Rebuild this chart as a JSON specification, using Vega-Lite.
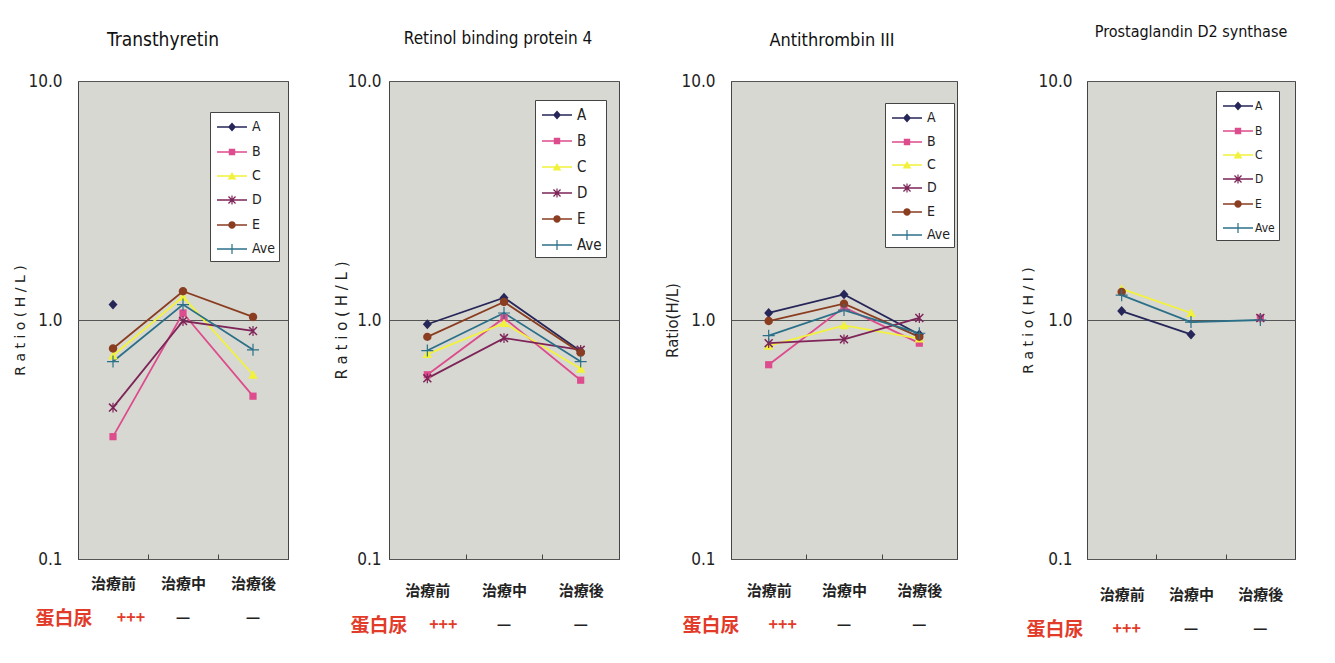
{
  "$schema": "https://vega.github.io/schema/vega-lite/v6.json",
  "background": "white",
  "padding": {"left": 13, "top": 23, "right": 5, "bottom": 5},
  "config": {
    "view": {"stroke": "#444"},
    "axis": {"labelColor": "#222", "titleColor": "#222"},
    "title": {"color": "#111", "font": "Liberation Sans Narrow, DejaVu Sans Condensed, Roboto, sans-serif", "fontWeight": "normal", "anchor": "middle"},
    "legend": {"title": null, "orient": "none", "fillColor": "#ffffff", "strokeColor": "#444", "padding": 4, "symbolOpacity": 1, "symbolSize": 400, "symbolOffset": 7, "labelOffset": 9, "labelFont": "Liberation Sans Narrow, DejaVu Sans Condensed, Roboto, sans-serif", "labelColor": "#222"}
  },
  "spacing": 63,
  "resolve": {"scale": {"color": "independent", "shape": "independent"}},
  "hconcat": [
    {
      "spacing": 45,
      "resolve": {"scale": {"color": "independent", "shape": "independent"}},
      "hconcat": [
        {
          "spacing": 10,
          "vconcat": [
            {
              "title": {"text": "Transthyretin", "fontSize": 19, "offset": 22, "dx": -20},
              "width": 210, "height": 478,
              "view": {"fill": "#d8d8d2", "stroke": "#444"},
              "data": {"values": [
                {"g": "A", "t": 0, "stage": "治療前", "v": 1.16},
                {"g": "B", "t": 0, "stage": "治療前", "v": 0.325},
                {"g": "B", "t": 1, "stage": "治療中", "v": 1.07},
                {"g": "B", "t": 2, "stage": "治療後", "v": 0.48},
                {"g": "C", "t": 0, "stage": "治療前", "v": 0.71},
                {"g": "C", "t": 1, "stage": "治療中", "v": 1.25},
                {"g": "C", "t": 2, "stage": "治療後", "v": 0.59},
                {"g": "D", "t": 0, "stage": "治療前", "v": 0.43},
                {"g": "D", "t": 1, "stage": "治療中", "v": 0.99},
                {"g": "D", "t": 2, "stage": "治療後", "v": 0.9},
                {"g": "E", "t": 0, "stage": "治療前", "v": 0.76},
                {"g": "E", "t": 1, "stage": "治療中", "v": 1.32},
                {"g": "E", "t": 2, "stage": "治療後", "v": 1.03},
                {"g": "Ave", "t": 0, "stage": "治療前", "v": 0.67},
                {"g": "Ave", "t": 1, "stage": "治療中", "v": 1.16},
                {"g": "Ave", "t": 2, "stage": "治療後", "v": 0.75}
              ]},
              "encoding": {
                "x": {"field": "stage", "type": "ordinal", "sort": ["治療前", "治療中", "治療後"], "scale": {"type": "band", "paddingInner": 0, "paddingOuter": 0},
                  "axis": {"title": null, "domain": false, "tickBand": "extent", "ticks": true, "tickSize": -5, "tickColor": "#444", "labelFont": "Noto Sans CJK JP", "labelFontWeight": "bold", "labelFontSize": 15, "labelPadding": 22, "labelAngle": 0, "grid": false}},
                "y": {"field": "v", "type": "quantitative", "scale": {"type": "log", "domain": [0.1, 10], "nice": false},
                  "axis": {"title": "R a t i o  ( H / L )", "values": [0.1, 1, 10], "format": ".1f", "grid": true, "gridColor": "#555", "ticks": false, "domain": false, "labelFont": "Liberation Sans Narrow, DejaVu Sans Condensed, Roboto, sans-serif", "labelFontSize": 17, "labelPadding": 16, "titleFont": "DejaVu Sans", "titleFontSize": 14, "titleFontWeight": "normal", "titlePadding": 0}}
              },
              "layer": [
                {
                  "mark": {"type": "line", "strokeWidth": 1.8},
                  "encoding": {
                    "detail": {"field": "g"},
                    "order": {"field": "t"},
                    "color": {"condition": [
                      {"test": "datum.g==='A'", "value": "#262659"},
                      {"test": "datum.g==='B'", "value": "#dd4c8c"},
                      {"test": "datum.g==='C'", "value": "#f2f23c"},
                      {"test": "datum.g==='D'", "value": "#7d2458"},
                      {"test": "datum.g==='E'", "value": "#8a3d20"}
                    ], "value": "#2b7088"}
                  }
                },
                {
                  "mark": {"type": "point", "filled": true, "size": 900, "strokeWidth": 0, "opacity": 1},
                  "encoding": {
                    "color": {"condition": [
                      {"test": "datum.g==='A'", "value": "#262659"},
                      {"test": "datum.g==='B'", "value": "#dd4c8c"},
                      {"test": "datum.g==='C'", "value": "#f2f23c"},
                      {"test": "datum.g==='D'", "value": "#7d2458"},
                      {"test": "datum.g==='E'", "value": "#8a3d20"}
                    ], "value": "#2b7088"},
                    "shape": {"condition": [
                      {"test": "datum.g==='A'", "value": "M0,-0.33L0.3,0L0,0.33L-0.3,0Z"},
                      {"test": "datum.g==='B'", "value": "M-0.24,-0.24H0.24V0.24H-0.24Z"},
                      {"test": "datum.g==='C'", "value": "M0,-0.3L0.32,0.26H-0.32Z"},
                      {"test": "datum.g==='D'", "value": "M-0.3,-0.23L-0.23,-0.3L0.3,0.23L0.23,0.3ZM0.23,-0.3L0.3,-0.23L-0.23,0.3L-0.3,0.23ZM-0.04,-0.33H0.04V0.33H-0.04Z"},
                      {"test": "datum.g==='E'", "value": "M0.28,0A0.28,0.28,0,1,1,-0.28,0A0.28,0.28,0,1,1,0.28,0Z"}
                    ], "value": "M-0.04,-0.4H0.04V-0.04H0.4V0.04H0.04V0.4H-0.04V0.04H-0.4V-0.04H-0.04Z"}
                  }
                },
                {
                  "transform": [{"filter": "false"}],
                  "mark": {"type": "point", "filled": true, "opacity": 1},
                  "encoding": {
                    "color": {"field": "g", "type": "nominal",
                      "scale": {"domain": ["A", "B", "C", "D", "E", "Ave"], "range": ["#262659", "#dd4c8c", "#f2f23c", "#7d2458", "#8a3d20", "#2b7088"]},
                      "legend": {"legendX": 132, "legendY": 31, "rowPadding": 6, "labelFontSize": 14}},
                    "shape": {"field": "g", "type": "nominal",
                      "scale": {"domain": ["A", "B", "C", "D", "E", "Ave"], "range": [
                        "M-1.5,-0.07H1.5V0.07H-1.5ZM0,-0.44L0.4,0L0,0.44L-0.4,0Z",
                        "M-1.5,-0.07H1.5V0.07H-1.5ZM-0.32,-0.32H0.32V0.32H-0.32Z",
                        "M-1.5,-0.07H1.5V0.07H-1.5ZM0,-0.4L0.43,0.35H-0.43Z",
                        "M-1.5,-0.07H1.5V0.07H-1.5ZM-0.4,-0.31L-0.31,-0.4L0.4,0.31L0.31,0.4ZM0.31,-0.4L0.4,-0.31L-0.31,0.4L-0.4,0.31ZM-0.06,-0.44H0.06V0.44H-0.06Z",
                        "M-1.5,-0.07H1.5V0.07H-1.5ZM0.37,0A0.37,0.37,0,1,1,-0.37,0A0.37,0.37,0,1,1,0.37,0Z",
                        "M-1.5,-0.07H1.5V0.07H-1.5ZM-0.06,-0.5H0.06V-0.06H0.5V0.06H0.06V0.5H-0.06V0.06H-0.5V-0.06H-0.06Z"]},
                      "legend": {"legendX": 132, "legendY": 31, "rowPadding": 6, "labelFontSize": 14}}
                  }
                }
              ]
            },
            {
              "width": 210, "height": 32,
              "view": {"stroke": null, "fill": null},
              "data": {"values": [
                {"stage": "治療前", "row": "蛋白尿", "sign": "+++"},
                {"stage": "治療中", "row": "蛋白尿", "sign": "—"},
                {"stage": "治療後", "row": "蛋白尿", "sign": "—"}
              ]},
              "encoding": {
                "x": {"field": "stage", "type": "ordinal", "sort": ["治療前", "治療中", "治療後"], "scale": {"type": "band", "paddingInner": 0, "paddingOuter": 0}, "axis": null},
                "y": {"field": "row", "type": "nominal", "axis": {"title": null, "domain": false, "ticks": false, "labelColor": "#e23b2a", "labelFont": "Noto Sans CJK JP", "labelFontWeight": "bold", "labelFontSize": 19, "labelPadding": -14}},
                "text": {"field": "sign"}
              },
              "layer": [
                {"transform": [{"filter": "datum.sign==='+++'"}], "mark": {"type": "text", "font": "Noto Sans CJK JP", "fontWeight": "bold", "fontSize": 16, "color": "#e23b2a", "dx": 18}},
                {"transform": [{"filter": "datum.sign!=='+++'"}], "mark": {"type": "text", "font": "Noto Sans CJK JP", "fontWeight": "bold", "fontSize": 16, "color": "#222"}}
              ]
            }
          ]
        },
        {
          "spacing": 10,
          "vconcat": [
            {
              "title": {"text": "Retinol binding protein 4", "fontSize": 17, "offset": 24, "dx": -6},
              "width": 230, "height": 478,
              "view": {"fill": "#d8d8d2", "stroke": "#444"},
              "data": {"values": [
                {"g": "A", "t": 0, "stage": "治療前", "v": 0.96},
                {"g": "A", "t": 1, "stage": "治療中", "v": 1.24},
                {"g": "A", "t": 2, "stage": "治療後", "v": 0.74},
                {"g": "B", "t": 0, "stage": "治療前", "v": 0.59},
                {"g": "B", "t": 1, "stage": "治療中", "v": 1.02},
                {"g": "B", "t": 2, "stage": "治療後", "v": 0.56},
                {"g": "C", "t": 0, "stage": "治療前", "v": 0.72},
                {"g": "C", "t": 1, "stage": "治療中", "v": 0.97},
                {"g": "C", "t": 2, "stage": "治療後", "v": 0.625},
                {"g": "D", "t": 0, "stage": "治療前", "v": 0.57},
                {"g": "D", "t": 1, "stage": "治療中", "v": 0.84},
                {"g": "D", "t": 2, "stage": "治療後", "v": 0.75},
                {"g": "E", "t": 0, "stage": "治療前", "v": 0.85},
                {"g": "E", "t": 1, "stage": "治療中", "v": 1.19},
                {"g": "E", "t": 2, "stage": "治療後", "v": 0.73},
                {"g": "Ave", "t": 0, "stage": "治療前", "v": 0.745},
                {"g": "Ave", "t": 1, "stage": "治療中", "v": 1.07},
                {"g": "Ave", "t": 2, "stage": "治療後", "v": 0.67}
              ]},
              "encoding": {
                "x": {"field": "stage", "type": "ordinal", "sort": ["治療前", "治療中", "治療後"], "scale": {"type": "band", "paddingInner": 0, "paddingOuter": 0},
                  "axis": {"title": null, "domain": false, "tickBand": "extent", "ticks": true, "tickSize": -5, "tickColor": "#444", "labelFont": "Noto Sans CJK JP", "labelFontWeight": "bold", "labelFontSize": 15, "labelPadding": 29, "labelAngle": 0, "grid": false}},
                "y": {"field": "v", "type": "quantitative", "scale": {"type": "log", "domain": [0.1, 10], "nice": false},
                  "axis": {"title": "R a t i o  ( H / L )", "values": [0.1, 1, 10], "format": ".1f", "grid": true, "gridColor": "#555", "ticks": false, "domain": false, "labelFont": "Liberation Sans Narrow, DejaVu Sans Condensed, Roboto, sans-serif", "labelFontSize": 17, "labelPadding": 8, "titleFont": "DejaVu Sans", "titleFontSize": 15, "titleFontWeight": "normal", "titlePadding": -3}}
              },
              "layer": [
                {
                  "mark": {"type": "line", "strokeWidth": 1.8},
                  "encoding": {
                    "detail": {"field": "g"},
                    "order": {"field": "t"},
                    "color": {"condition": [
                      {"test": "datum.g==='A'", "value": "#262659"},
                      {"test": "datum.g==='B'", "value": "#dd4c8c"},
                      {"test": "datum.g==='C'", "value": "#f2f23c"},
                      {"test": "datum.g==='D'", "value": "#7d2458"},
                      {"test": "datum.g==='E'", "value": "#8a3d20"}
                    ], "value": "#2b7088"}
                  }
                },
                {
                  "mark": {"type": "point", "filled": true, "size": 900, "strokeWidth": 0, "opacity": 1},
                  "encoding": {
                    "color": {"condition": [
                      {"test": "datum.g==='A'", "value": "#262659"},
                      {"test": "datum.g==='B'", "value": "#dd4c8c"},
                      {"test": "datum.g==='C'", "value": "#f2f23c"},
                      {"test": "datum.g==='D'", "value": "#7d2458"},
                      {"test": "datum.g==='E'", "value": "#8a3d20"}
                    ], "value": "#2b7088"},
                    "shape": {"condition": [
                      {"test": "datum.g==='A'", "value": "M0,-0.33L0.3,0L0,0.33L-0.3,0Z"},
                      {"test": "datum.g==='B'", "value": "M-0.24,-0.24H0.24V0.24H-0.24Z"},
                      {"test": "datum.g==='C'", "value": "M0,-0.3L0.32,0.26H-0.32Z"},
                      {"test": "datum.g==='D'", "value": "M-0.3,-0.23L-0.23,-0.3L0.3,0.23L0.23,0.3ZM0.23,-0.3L0.3,-0.23L-0.23,0.3L-0.3,0.23ZM-0.04,-0.33H0.04V0.33H-0.04Z"},
                      {"test": "datum.g==='E'", "value": "M0.28,0A0.28,0.28,0,1,1,-0.28,0A0.28,0.28,0,1,1,0.28,0Z"}
                    ], "value": "M-0.04,-0.4H0.04V-0.04H0.4V0.04H0.04V0.4H-0.04V0.04H-0.4V-0.04H-0.04Z"}
                  }
                },
                {
                  "transform": [{"filter": "false"}],
                  "mark": {"type": "point", "filled": true, "opacity": 1},
                  "encoding": {
                    "color": {"field": "g", "type": "nominal",
                      "scale": {"domain": ["A", "B", "C", "D", "E", "Ave"], "range": ["#262659", "#dd4c8c", "#f2f23c", "#7d2458", "#8a3d20", "#2b7088"]},
                      "legend": {"legendX": 146, "legendY": 19, "rowPadding": 7, "labelFontSize": 15}},
                    "shape": {"field": "g", "type": "nominal",
                      "scale": {"domain": ["A", "B", "C", "D", "E", "Ave"], "range": [
                        "M-1.5,-0.07H1.5V0.07H-1.5ZM0,-0.44L0.4,0L0,0.44L-0.4,0Z",
                        "M-1.5,-0.07H1.5V0.07H-1.5ZM-0.32,-0.32H0.32V0.32H-0.32Z",
                        "M-1.5,-0.07H1.5V0.07H-1.5ZM0,-0.4L0.43,0.35H-0.43Z",
                        "M-1.5,-0.07H1.5V0.07H-1.5ZM-0.4,-0.31L-0.31,-0.4L0.4,0.31L0.31,0.4ZM0.31,-0.4L0.4,-0.31L-0.31,0.4L-0.4,0.31ZM-0.06,-0.44H0.06V0.44H-0.06Z",
                        "M-1.5,-0.07H1.5V0.07H-1.5ZM0.37,0A0.37,0.37,0,1,1,-0.37,0A0.37,0.37,0,1,1,0.37,0Z",
                        "M-1.5,-0.07H1.5V0.07H-1.5ZM-0.06,-0.5H0.06V-0.06H0.5V0.06H0.06V0.5H-0.06V0.06H-0.5V-0.06H-0.06Z"]},
                      "legend": {"legendX": 146, "legendY": 19, "rowPadding": 7, "labelFontSize": 15}}
                  }
                }
              ]
            },
            {
              "width": 230, "height": 32,
              "view": {"stroke": null, "fill": null},
              "data": {"values": [
                {"stage": "治療前", "row": "蛋白尿", "sign": "+++"},
                {"stage": "治療中", "row": "蛋白尿", "sign": "—"},
                {"stage": "治療後", "row": "蛋白尿", "sign": "—"}
              ]},
              "encoding": {
                "x": {"field": "stage", "type": "ordinal", "sort": ["治療前", "治療中", "治療後"], "scale": {"type": "band", "paddingInner": 0, "paddingOuter": 0}, "axis": null},
                "y": {"field": "row", "type": "nominal", "axis": {"title": null, "domain": false, "ticks": false, "labelColor": "#e23b2a", "labelFont": "Noto Sans CJK JP", "labelFontWeight": "bold", "labelFontSize": 19, "labelPadding": -18}},
                "text": {"field": "sign"}
              },
              "layer": [
                {"transform": [{"filter": "datum.sign==='+++'"}], "mark": {"type": "text", "font": "Noto Sans CJK JP", "fontWeight": "bold", "fontSize": 16, "color": "#e23b2a", "dx": 16}},
                {"transform": [{"filter": "datum.sign!=='+++'"}], "mark": {"type": "text", "font": "Noto Sans CJK JP", "fontWeight": "bold", "fontSize": 16, "color": "#222"}}
              ]
            }
          ]
        },
        {
          "spacing": 10,
          "vconcat": [
            {
              "title": {"text": "Antithrombin III", "fontSize": 18, "offset": 22, "dx": -12},
              "width": 226, "height": 478,
              "view": {"fill": "#d8d8d2", "stroke": "#444"},
              "data": {"values": [
                {"g": "A", "t": 0, "stage": "治療前", "v": 1.07},
                {"g": "A", "t": 1, "stage": "治療中", "v": 1.28},
                {"g": "A", "t": 2, "stage": "治療後", "v": 0.87},
                {"g": "B", "t": 0, "stage": "治療前", "v": 0.65},
                {"g": "B", "t": 1, "stage": "治療中", "v": 1.13},
                {"g": "B", "t": 2, "stage": "治療後", "v": 0.8},
                {"g": "C", "t": 0, "stage": "治療前", "v": 0.78},
                {"g": "C", "t": 1, "stage": "治療中", "v": 0.95},
                {"g": "C", "t": 2, "stage": "治療後", "v": 0.835},
                {"g": "D", "t": 0, "stage": "治療前", "v": 0.8},
                {"g": "D", "t": 1, "stage": "治療中", "v": 0.83},
                {"g": "D", "t": 2, "stage": "治療後", "v": 1.02},
                {"g": "E", "t": 0, "stage": "治療前", "v": 0.99},
                {"g": "E", "t": 1, "stage": "治療中", "v": 1.17},
                {"g": "E", "t": 2, "stage": "治療後", "v": 0.85},
                {"g": "Ave", "t": 0, "stage": "治療前", "v": 0.86},
                {"g": "Ave", "t": 1, "stage": "治療中", "v": 1.1},
                {"g": "Ave", "t": 2, "stage": "治療後", "v": 0.88}
              ]},
              "encoding": {
                "x": {"field": "stage", "type": "ordinal", "sort": ["治療前", "治療中", "治療後"], "scale": {"type": "band", "paddingInner": 0, "paddingOuter": 0},
                  "axis": {"title": null, "domain": false, "tickBand": "extent", "ticks": true, "tickSize": -5, "tickColor": "#444", "labelFont": "Noto Sans CJK JP", "labelFontWeight": "bold", "labelFontSize": 15, "labelPadding": 29, "labelAngle": 0, "grid": false}},
                "y": {"field": "v", "type": "quantitative", "scale": {"type": "log", "domain": [0.1, 10], "nice": false},
                  "axis": {"title": "Ratio(H/L)", "values": [0.1, 1, 10], "format": ".1f", "grid": true, "gridColor": "#555", "ticks": false, "domain": false, "labelFont": "Liberation Sans Narrow, DejaVu Sans Condensed, Roboto, sans-serif", "labelFontSize": 17, "labelPadding": 16, "titleFont": "DejaVu Sans", "titleFontSize": 15, "titleFontWeight": "normal", "titlePadding": 0}}
              },
              "layer": [
                {
                  "mark": {"type": "line", "strokeWidth": 1.8},
                  "encoding": {
                    "detail": {"field": "g"},
                    "order": {"field": "t"},
                    "color": {"condition": [
                      {"test": "datum.g==='A'", "value": "#262659"},
                      {"test": "datum.g==='B'", "value": "#dd4c8c"},
                      {"test": "datum.g==='C'", "value": "#f2f23c"},
                      {"test": "datum.g==='D'", "value": "#7d2458"},
                      {"test": "datum.g==='E'", "value": "#8a3d20"}
                    ], "value": "#2b7088"}
                  }
                },
                {
                  "mark": {"type": "point", "filled": true, "size": 900, "strokeWidth": 0, "opacity": 1},
                  "encoding": {
                    "color": {"condition": [
                      {"test": "datum.g==='A'", "value": "#262659"},
                      {"test": "datum.g==='B'", "value": "#dd4c8c"},
                      {"test": "datum.g==='C'", "value": "#f2f23c"},
                      {"test": "datum.g==='D'", "value": "#7d2458"},
                      {"test": "datum.g==='E'", "value": "#8a3d20"}
                    ], "value": "#2b7088"},
                    "shape": {"condition": [
                      {"test": "datum.g==='A'", "value": "M0,-0.33L0.3,0L0,0.33L-0.3,0Z"},
                      {"test": "datum.g==='B'", "value": "M-0.24,-0.24H0.24V0.24H-0.24Z"},
                      {"test": "datum.g==='C'", "value": "M0,-0.3L0.32,0.26H-0.32Z"},
                      {"test": "datum.g==='D'", "value": "M-0.3,-0.23L-0.23,-0.3L0.3,0.23L0.23,0.3ZM0.23,-0.3L0.3,-0.23L-0.23,0.3L-0.3,0.23ZM-0.04,-0.33H0.04V0.33H-0.04Z"},
                      {"test": "datum.g==='E'", "value": "M0.28,0A0.28,0.28,0,1,1,-0.28,0A0.28,0.28,0,1,1,0.28,0Z"}
                    ], "value": "M-0.04,-0.4H0.04V-0.04H0.4V0.04H0.04V0.4H-0.04V0.04H-0.4V-0.04H-0.04Z"}
                  }
                },
                {
                  "transform": [{"filter": "false"}],
                  "mark": {"type": "point", "filled": true, "opacity": 1},
                  "encoding": {
                    "color": {"field": "g", "type": "nominal",
                      "scale": {"domain": ["A", "B", "C", "D", "E", "Ave"], "range": ["#262659", "#dd4c8c", "#f2f23c", "#7d2458", "#8a3d20", "#2b7088"]},
                      "legend": {"legendX": 154, "legendY": 22, "rowPadding": 5, "labelFontSize": 14}},
                    "shape": {"field": "g", "type": "nominal",
                      "scale": {"domain": ["A", "B", "C", "D", "E", "Ave"], "range": [
                        "M-1.5,-0.07H1.5V0.07H-1.5ZM0,-0.44L0.4,0L0,0.44L-0.4,0Z",
                        "M-1.5,-0.07H1.5V0.07H-1.5ZM-0.32,-0.32H0.32V0.32H-0.32Z",
                        "M-1.5,-0.07H1.5V0.07H-1.5ZM0,-0.4L0.43,0.35H-0.43Z",
                        "M-1.5,-0.07H1.5V0.07H-1.5ZM-0.4,-0.31L-0.31,-0.4L0.4,0.31L0.31,0.4ZM0.31,-0.4L0.4,-0.31L-0.31,0.4L-0.4,0.31ZM-0.06,-0.44H0.06V0.44H-0.06Z",
                        "M-1.5,-0.07H1.5V0.07H-1.5ZM0.37,0A0.37,0.37,0,1,1,-0.37,0A0.37,0.37,0,1,1,0.37,0Z",
                        "M-1.5,-0.07H1.5V0.07H-1.5ZM-0.06,-0.5H0.06V-0.06H0.5V0.06H0.06V0.5H-0.06V0.06H-0.5V-0.06H-0.06Z"]},
                      "legend": {"legendX": 154, "legendY": 22, "rowPadding": 5, "labelFontSize": 14}}
                  }
                }
              ]
            },
            {
              "width": 226, "height": 32,
              "view": {"stroke": null, "fill": null},
              "data": {"values": [
                {"stage": "治療前", "row": "蛋白尿", "sign": "+++"},
                {"stage": "治療中", "row": "蛋白尿", "sign": "—"},
                {"stage": "治療後", "row": "蛋白尿", "sign": "—"}
              ]},
              "encoding": {
                "x": {"field": "stage", "type": "ordinal", "sort": ["治療前", "治療中", "治療後"], "scale": {"type": "band", "paddingInner": 0, "paddingOuter": 0}, "axis": null},
                "y": {"field": "row", "type": "nominal", "axis": {"title": null, "domain": false, "ticks": false, "labelColor": "#e23b2a", "labelFont": "Noto Sans CJK JP", "labelFontWeight": "bold", "labelFontSize": 19, "labelPadding": -8}},
                "text": {"field": "sign"}
              },
              "layer": [
                {"transform": [{"filter": "datum.sign==='+++'"}], "mark": {"type": "text", "font": "Noto Sans CJK JP", "fontWeight": "bold", "fontSize": 16, "color": "#e23b2a", "dx": 14}},
                {"transform": [{"filter": "datum.sign!=='+++'"}], "mark": {"type": "text", "font": "Noto Sans CJK JP", "fontWeight": "bold", "fontSize": 16, "color": "#222"}}
              ]
            }
          ]
        }
      ]
    },
    {
      "spacing": 10,
      "vconcat": [
        {
          "title": {"text": "Prostaglandin D2 synthase", "fontSize": 16, "offset": 32},
          "width": 208, "height": 478,
          "view": {"fill": "#d8d8d2", "stroke": "#444"},
          "data": {"values": [
            {"g": "A", "t": 0, "stage": "治療前", "v": 1.09},
            {"g": "A", "t": 1, "stage": "治療中", "v": 0.87},
            {"g": "B", "t": 2, "stage": "治療後", "v": 1.02},
            {"g": "C", "t": 0, "stage": "治療前", "v": 1.35},
            {"g": "C", "t": 1, "stage": "治療中", "v": 1.07},
            {"g": "D", "t": 2, "stage": "治療後", "v": 1.02},
            {"g": "E", "t": 0, "stage": "治療前", "v": 1.31},
            {"g": "Ave", "t": 0, "stage": "治療前", "v": 1.27},
            {"g": "Ave", "t": 1, "stage": "治療中", "v": 0.98},
            {"g": "Ave", "t": 2, "stage": "治療後", "v": 1.0}
          ]},
          "encoding": {
            "x": {"field": "stage", "type": "ordinal", "sort": ["治療前", "治療中", "治療後"], "scale": {"type": "band", "paddingInner": 0, "paddingOuter": 0},
              "axis": {"title": null, "domain": false, "tickBand": "extent", "ticks": true, "tickSize": -5, "tickColor": "#444", "labelFont": "Noto Sans CJK JP", "labelFontWeight": "bold", "labelFontSize": 15, "labelPadding": 33, "labelAngle": 0, "grid": false}},
            "y": {"field": "v", "type": "quantitative", "scale": {"type": "log", "domain": [0.1, 10], "nice": false},
              "axis": {"title": "R a t i o  ( H / I )", "values": [0.1, 1, 10], "format": ".1f", "grid": true, "gridColor": "#555", "ticks": false, "domain": false, "labelFont": "Liberation Sans Narrow, DejaVu Sans Condensed, Roboto, sans-serif", "labelFontSize": 17, "labelPadding": 15, "titleFont": "DejaVu Sans", "titleFontSize": 14, "titleFontWeight": "normal", "titlePadding": 2}}
          },
          "layer": [
            {
              "mark": {"type": "line", "strokeWidth": 1.8},
              "encoding": {
                "detail": {"field": "g"},
                "order": {"field": "t"},
                "color": {"condition": [
                  {"test": "datum.g==='A'", "value": "#262659"},
                  {"test": "datum.g==='B'", "value": "#dd4c8c"},
                  {"test": "datum.g==='C'", "value": "#f2f23c"},
                  {"test": "datum.g==='D'", "value": "#7d2458"},
                  {"test": "datum.g==='E'", "value": "#8a3d20"}
                ], "value": "#2b7088"}
              }
            },
            {
              "mark": {"type": "point", "filled": true, "size": 900, "strokeWidth": 0, "opacity": 1},
              "encoding": {
                "color": {"condition": [
                  {"test": "datum.g==='A'", "value": "#262659"},
                  {"test": "datum.g==='B'", "value": "#dd4c8c"},
                  {"test": "datum.g==='C'", "value": "#f2f23c"},
                  {"test": "datum.g==='D'", "value": "#7d2458"},
                  {"test": "datum.g==='E'", "value": "#8a3d20"}
                ], "value": "#2b7088"},
                "shape": {"condition": [
                  {"test": "datum.g==='A'", "value": "M0,-0.33L0.3,0L0,0.33L-0.3,0Z"},
                  {"test": "datum.g==='B'", "value": "M-0.24,-0.24H0.24V0.24H-0.24Z"},
                  {"test": "datum.g==='C'", "value": "M0,-0.3L0.32,0.26H-0.32Z"},
                  {"test": "datum.g==='D'", "value": "M-0.3,-0.23L-0.23,-0.3L0.3,0.23L0.23,0.3ZM0.23,-0.3L0.3,-0.23L-0.23,0.3L-0.3,0.23ZM-0.04,-0.33H0.04V0.33H-0.04Z"},
                  {"test": "datum.g==='E'", "value": "M0.28,0A0.28,0.28,0,1,1,-0.28,0A0.28,0.28,0,1,1,0.28,0Z"}
                ], "value": "M-0.04,-0.4H0.04V-0.04H0.4V0.04H0.04V0.4H-0.04V0.04H-0.4V-0.04H-0.04Z"}
              }
            },
            {
              "transform": [{"filter": "false"}],
              "mark": {"type": "point", "filled": true, "opacity": 1},
              "encoding": {
                "color": {"field": "g", "type": "nominal",
                  "scale": {"domain": ["A", "B", "C", "D", "E", "Ave"], "range": ["#262659", "#dd4c8c", "#f2f23c", "#7d2458", "#8a3d20", "#2b7088"]},
                  "legend": {"legendX": 129, "legendY": 10, "rowPadding": 6, "labelFontSize": 12, "labelOffset": 6}},
                "shape": {"field": "g", "type": "nominal",
                  "scale": {"domain": ["A", "B", "C", "D", "E", "Ave"], "range": [
                    "M-1.5,-0.07H1.5V0.07H-1.5ZM0,-0.44L0.4,0L0,0.44L-0.4,0Z",
                    "M-1.5,-0.07H1.5V0.07H-1.5ZM-0.32,-0.32H0.32V0.32H-0.32Z",
                    "M-1.5,-0.07H1.5V0.07H-1.5ZM0,-0.4L0.43,0.35H-0.43Z",
                    "M-1.5,-0.07H1.5V0.07H-1.5ZM-0.4,-0.31L-0.31,-0.4L0.4,0.31L0.31,0.4ZM0.31,-0.4L0.4,-0.31L-0.31,0.4L-0.4,0.31ZM-0.06,-0.44H0.06V0.44H-0.06Z",
                    "M-1.5,-0.07H1.5V0.07H-1.5ZM0.37,0A0.37,0.37,0,1,1,-0.37,0A0.37,0.37,0,1,1,0.37,0Z",
                    "M-1.5,-0.07H1.5V0.07H-1.5ZM-0.06,-0.5H0.06V-0.06H0.5V0.06H0.06V0.5H-0.06V0.06H-0.5V-0.06H-0.06Z"]},
                  "legend": {"legendX": 129, "legendY": 10, "rowPadding": 6, "labelFontSize": 12, "labelOffset": 6}}
              }
            }
          ]
        },
        {
          "width": 208, "height": 32,
          "view": {"stroke": null, "fill": null},
          "data": {"values": [
            {"stage": "治療前", "row": "蛋白尿", "sign": "+++"},
            {"stage": "治療中", "row": "蛋白尿", "sign": "—"},
            {"stage": "治療後", "row": "蛋白尿", "sign": "—"}
          ]},
          "encoding": {
            "x": {"field": "stage", "type": "ordinal", "sort": ["治療前", "治療中", "治療後"], "scale": {"type": "band", "paddingInner": 0, "paddingOuter": 0}, "axis": null},
            "y": {"field": "row", "type": "nominal", "axis": {"title": null, "domain": false, "ticks": false, "labelColor": "#e23b2a", "labelFont": "Noto Sans CJK JP", "labelFontWeight": "bold", "labelFontSize": 19, "labelPadding": 4}},
            "text": {"field": "sign"}
          },
          "layer": [
            {"transform": [{"filter": "datum.sign==='+++'"}], "mark": {"type": "text", "font": "Noto Sans CJK JP", "fontWeight": "bold", "fontSize": 16, "color": "#e23b2a", "dx": 5}},
            {"transform": [{"filter": "datum.sign!=='+++'"}], "mark": {"type": "text", "font": "Noto Sans CJK JP", "fontWeight": "bold", "fontSize": 16, "color": "#222"}}
          ]
        }
      ]
    }
  ]
}
